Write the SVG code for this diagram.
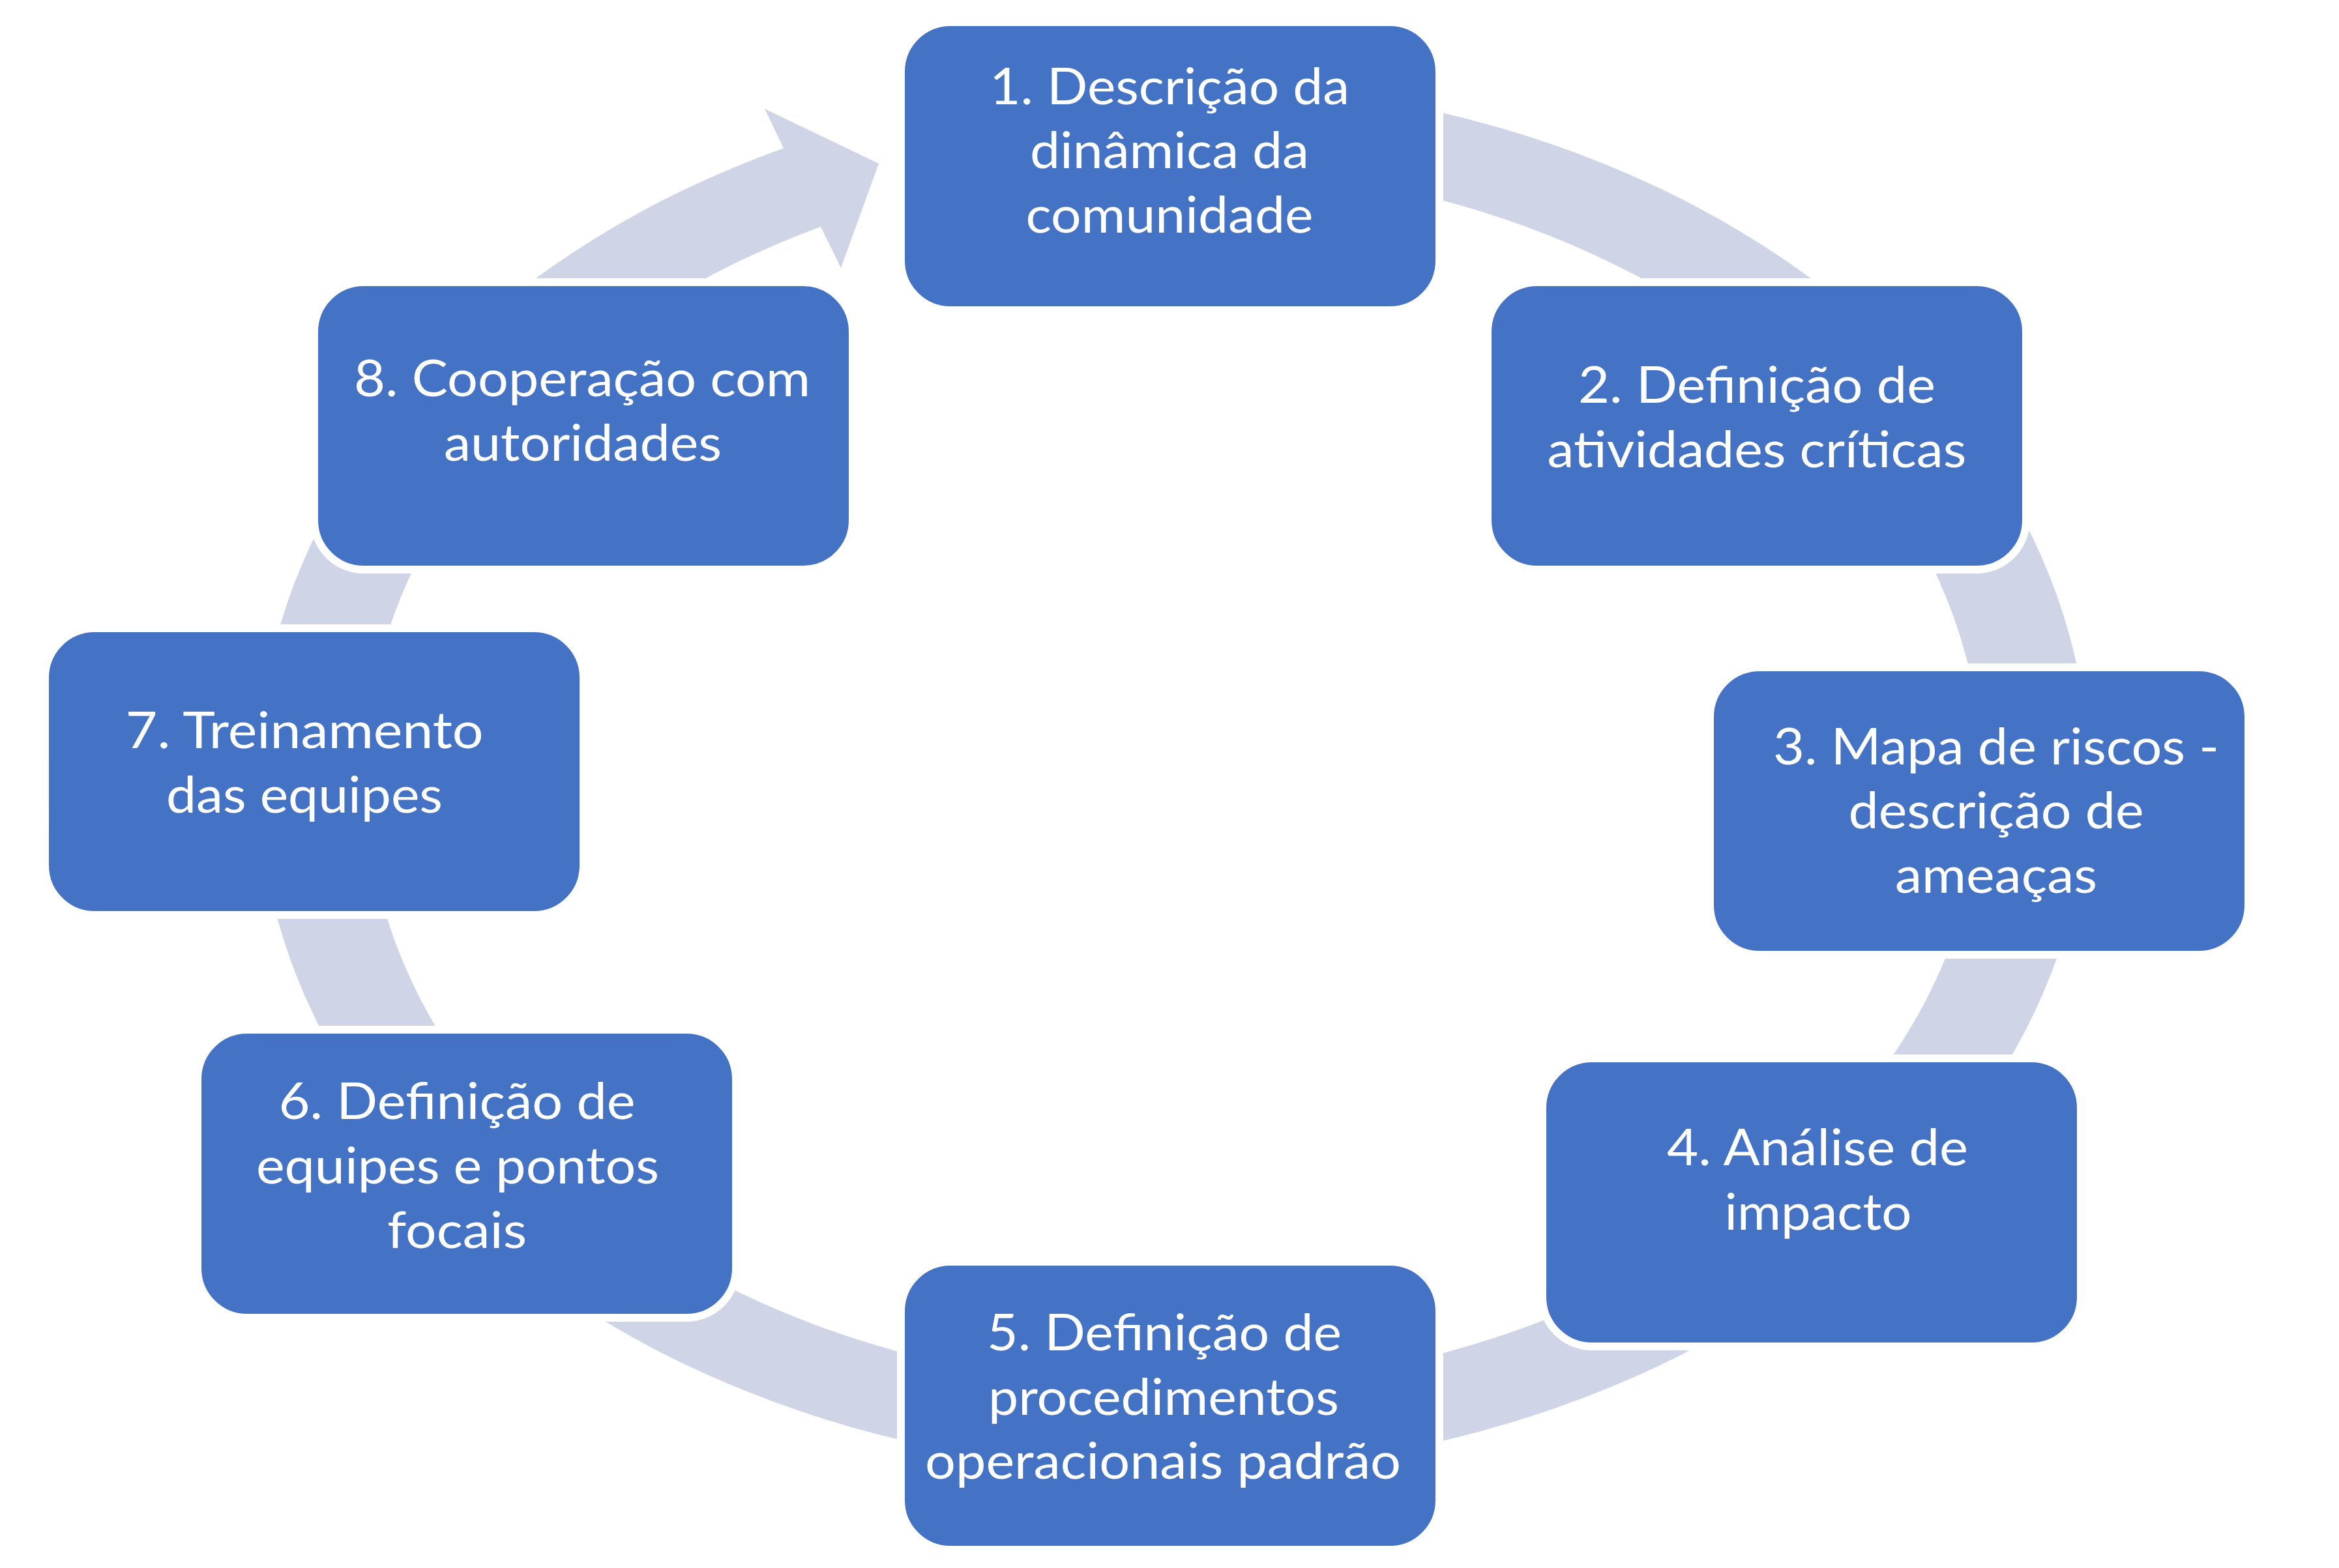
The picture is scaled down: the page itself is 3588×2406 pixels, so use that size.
<svg xmlns="http://www.w3.org/2000/svg" width="3588" height="2406" viewBox="0 0 3588 2406">
<style>
.box{fill:#4472C4;stroke:#FFFFFF;stroke-width:4}
.lbl{font-family:Lato,"Liberation Sans",sans-serif;font-size:77px;fill:#FFFFFF;text-anchor:middle}
.band{fill:#CFD5E6;fill-rule:evenodd}
</style>
<defs>
<mask id="gapMask" maskUnits="userSpaceOnUse" x="0" y="0" width="3588" height="2406">
<rect x="0" y="0" width="3588" height="2406" fill="#fff"/>
<g fill="#000">
<rect x="1376" y="28" width="838" height="454" rx="82"/>
<rect x="2276" y="427" width="838" height="453" rx="82"/>
<rect x="2617" y="1018" width="838" height="453" rx="82"/>
<rect x="2360" y="1618" width="838" height="454" rx="82"/>
<rect x="1376" y="1930" width="838" height="454" rx="82"/>
<rect x="297" y="1574" width="838" height="454" rx="82"/>
<rect x="63" y="958" width="838" height="452" rx="82"/>
<rect x="476" y="427" width="838" height="453" rx="82"/>
</g>
</mask>
</defs>
<rect width="3588" height="2406" fill="#FFFFFF"/>
<g id="connectors">
<path class="band" mask="url(#gapMask)" d="M1800 126 A1404 1066 0 1 1 1202 227.5 L1173 167 L1348 251 L1290 411 L1259 348 A1240 938 0 1 0 1800 254 Z"/>
</g>
<g id="node1">
<rect class="box" x="1386" y="38" width="818" height="434" rx="72"/>
<text class="lbl" x="1794" y="160" textLength="552" lengthAdjust="spacingAndGlyphs">1. Descrição da</text>
<text class="lbl" x="1794" y="258" textLength="428" lengthAdjust="spacingAndGlyphs">dinâmica da</text>
<text class="lbl" x="1794" y="357" textLength="441" lengthAdjust="spacingAndGlyphs">comunidade</text>
</g>
<g id="node2">
<rect class="box" x="2286" y="437" width="818" height="433" rx="72"/>
<text class="lbl" x="2695" y="618" textLength="548" lengthAdjust="spacingAndGlyphs">2. Definição de</text>
<text class="lbl" x="2695" y="717" textLength="643" lengthAdjust="spacingAndGlyphs">atividades críticas</text>
</g>
<g id="node3">
<rect class="box" x="2627" y="1028" width="818" height="433" rx="72"/>
<text class="lbl" x="3062" y="1173" textLength="684" lengthAdjust="spacingAndGlyphs">3. Mapa de riscos -</text>
<text class="lbl" x="3062" y="1271" textLength="453" lengthAdjust="spacingAndGlyphs">descrição de</text>
<text class="lbl" x="3062" y="1370" textLength="310" lengthAdjust="spacingAndGlyphs">ameaças</text>
</g>
<g id="node4">
<rect class="box" x="2370" y="1628" width="818" height="434" rx="72"/>
<text class="lbl" x="2788" y="1788" textLength="462" lengthAdjust="spacingAndGlyphs">4. Análise de</text>
<text class="lbl" x="2789" y="1887" textLength="287" lengthAdjust="spacingAndGlyphs">impacto</text>
</g>
<g id="node5">
<rect class="box" x="1386" y="1940" width="818" height="434" rx="72"/>
<text class="lbl" x="1786" y="2072" textLength="544" lengthAdjust="spacingAndGlyphs">5. Definição de</text>
<text class="lbl" x="1785" y="2171" textLength="538" lengthAdjust="spacingAndGlyphs">procedimentos</text>
<text class="lbl" x="1784" y="2269" textLength="730" lengthAdjust="spacingAndGlyphs">operacionais padrão</text>
</g>
<g id="node6">
<rect class="box" x="307" y="1584" width="818" height="434" rx="72"/>
<text class="lbl" x="701" y="1717" textLength="547" lengthAdjust="spacingAndGlyphs">6. Definição de</text>
<text class="lbl" x="702" y="1816" textLength="618" lengthAdjust="spacingAndGlyphs">equipes e pontos</text>
<text class="lbl" x="701" y="1915" textLength="214" lengthAdjust="spacingAndGlyphs">focais</text>
</g>
<g id="node7">
<rect class="box" x="73" y="968" width="818" height="432" rx="72"/>
<text class="lbl" x="467" y="1148" textLength="549" lengthAdjust="spacingAndGlyphs">7. Treinamento</text>
<text class="lbl" x="467" y="1247" textLength="424" lengthAdjust="spacingAndGlyphs">das equipes</text>
</g>
<g id="node8">
<rect class="box" x="486" y="437" width="818" height="433" rx="72"/>
<text class="lbl" x="893" y="608" textLength="700" lengthAdjust="spacingAndGlyphs">8. Cooperação com</text>
<text class="lbl" x="894" y="707" textLength="426" lengthAdjust="spacingAndGlyphs">autoridades</text>
</g>
</svg>
